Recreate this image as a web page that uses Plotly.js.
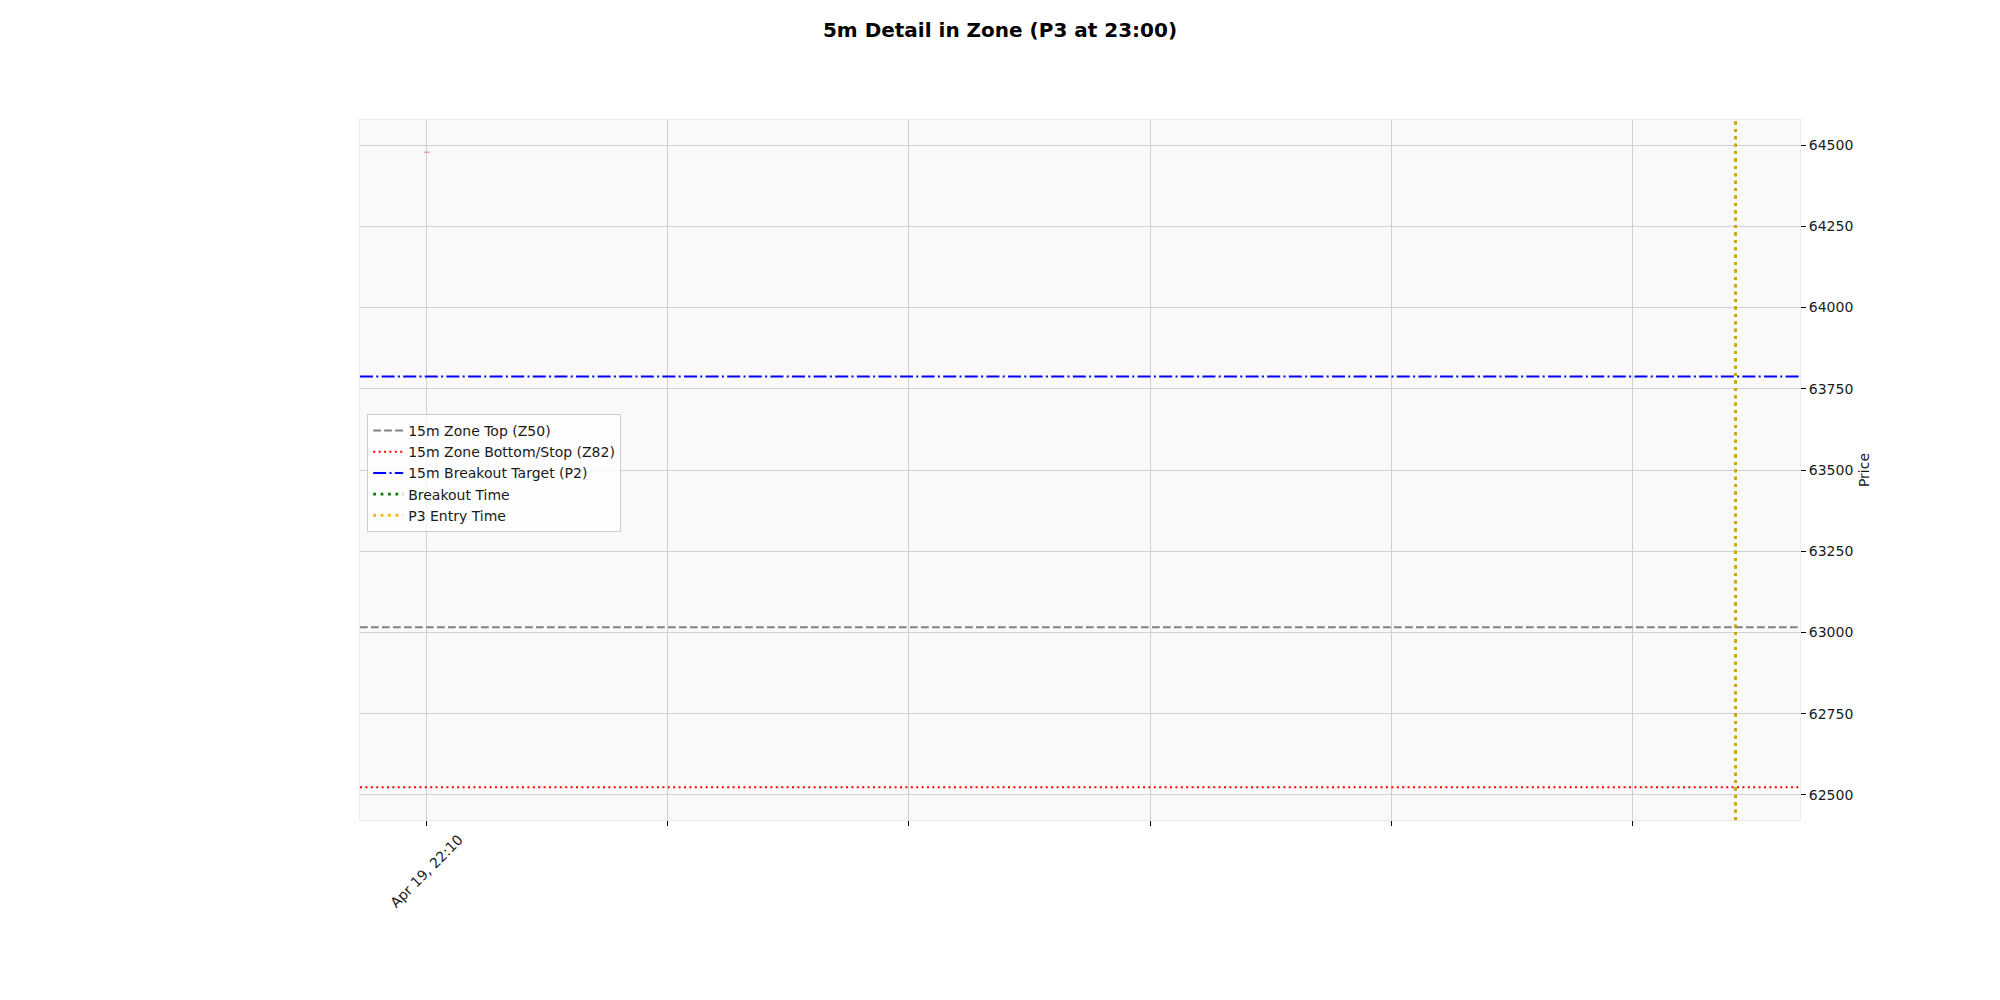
<!DOCTYPE html>
<html>
<head>
<meta charset="utf-8">
<script src="https://cdn.plot.ly/plotly-3.0.1.min.js"></script>
<style>html,body{margin:0;padding:0;background:#fff;}#chart{width:2000px;height:1000px;}</style>
</head>
<body>
<div id="chart"></div>
<script>
// ---- data ----
const candleIndex = [0];
const candlePrice = [64478];
const tickIndex = [0, 1, 2, 3, 4, 5];
const tickLabels = ['Apr 19, 22:10', '', '', '', '', ''];
const zoneTop = 63016;          // 15m Zone Top (Z50)
const zoneBottom = 62524;       // 15m Zone Bottom/Stop (Z82)
const breakoutTarget = 63788;   // 15m Breakout Target (P2)
const breakoutTimeIndex = 5.428;
const entryTimeIndex = 5.428;
const xRange = [-0.277, 5.696];
const yRange = [62423, 64577];
const yTicks = [62500, 62750, 63000, 63250, 63500, 63750, 64000, 64250, 64500];

const FONT = 'DejaVu Sans, Liberation Sans, sans-serif';

const traces = [{
  type: 'scatter', mode: 'markers',
  x: candleIndex, y: candlePrice,
  marker: {symbol: 'line-ew', size: 4, line: {width: 1, color: '#f07a7a'}},
  showlegend: false, hoverinfo: 'skip'
}];

function hline(y, color, dash, name, rank) {
  return {type: 'line', xref: 'paper', x0: 0, x1: 1, yref: 'y', y0: y, y1: y,
    line: {color: color, width: 2, dash: dash}, layer: 'above',
    showlegend: true, name: name, legendrank: rank};
}
function vline(x, color, dash, name, rank, opacity) {
  return {type: 'line', yref: 'paper', y0: 0, y1: 1, xref: 'x', x0: x, x1: x,
    line: {color: color, width: 2.8, dash: dash}, layer: 'above', opacity: opacity,
    showlegend: true, name: name, legendrank: rank};
}

const shapes = [
  hline(zoneTop, '#808080', '7.7px,3.3px', '15m Zone Top (Z50)', 1),
  hline(zoneBottom, '#ff0000', '2px,3.4px', '15m Zone Bottom/Stop (Z82)', 2),
  hline(breakoutTarget, '#0000ff', '13px,3.3px,2px,3.3px', '15m Breakout Target (P2)', 3),
  vline(breakoutTimeIndex, '#008000', '2.8px,4.6px', 'Breakout Time', 4, 1),
  vline(entryTimeIndex, '#ffa500', '2.8px,4.6px', 'P3 Entry Time', 5, 0.9)
];

// rotated x tick labels, centred on their ticks (matplotlib rotation=45 style)
const annotations = tickIndex.map((v, i) => ({
  xref: 'x', x: v, yref: 'paper', y: 0, xanchor: 'center', yanchor: 'top',
  yshift: -9, text: tickLabels[i], textangle: -45, showarrow: false,
  font: {family: FONT, size: 14, color: '#1a1a1a'}
})).filter(a => a.text !== '');

const layout = {
  width: 2000, height: 1000,
  paper_bgcolor: '#ffffff', plot_bgcolor: '#f9f9f9',
  margin: {l: 360, r: 200, t: 120, b: 180, pad: 0},
  font: {family: FONT, size: 14, color: '#000'},
  title: {text: '<b>5m Detail in Zone (P3 at 23:00)</b>', xref: 'container', x: 0.5, xanchor: 'center',
    yref: 'container', y: 0.97, yanchor: 'middle', font: {family: FONT, size: 20, color: '#000'}},
  xaxis: {
    range: xRange, tickmode: 'array', tickvals: tickIndex, ticktext: tickIndex.map(() => ''),
    ticks: 'outside', ticklen: 5, tickcolor: '#000', tickwidth: 1,
    showgrid: true, gridcolor: '#d0d0d0', gridwidth: 1, zeroline: false,
    showline: true, linecolor: '#ebebeb', linewidth: 1, mirror: true,
    tickfont: {family: FONT, size: 14, color: '#1a1a1a'}
  },
  yaxis: {
    range: yRange, side: 'right', tickmode: 'array', tickvals: yTicks,
    ticktext: yTicks.map(String),
    ticks: 'outside', ticklen: 5, tickcolor: '#000', tickwidth: 1,
    showgrid: true, gridcolor: '#d0d0d0', gridwidth: 1, zeroline: false,
    showline: true, linecolor: '#ebebeb', linewidth: 1, mirror: true,
    tickfont: {family: FONT, size: 14, color: '#1a1a1a'},
    title: {text: 'Price', standoff: 6, font: {family: FONT, size: 14, color: '#1a1a1a'}}
  },
  legend: {
    x: 0.005, xanchor: 'left', y: 0.58, yanchor: 'top',
    bgcolor: 'rgba(255,255,255,0.8)', bordercolor: '#cccccc', borderwidth: 1,
    font: {family: FONT, size: 14, color: '#1a1a1a'}, tracegroupgap: 0
  },
  annotations: annotations,
  shapes: shapes,
  showlegend: true
};

Plotly.newPlot('chart', traces, layout, {displayModeBar: false, staticPlot: true});
</script>
</body>
</html>
